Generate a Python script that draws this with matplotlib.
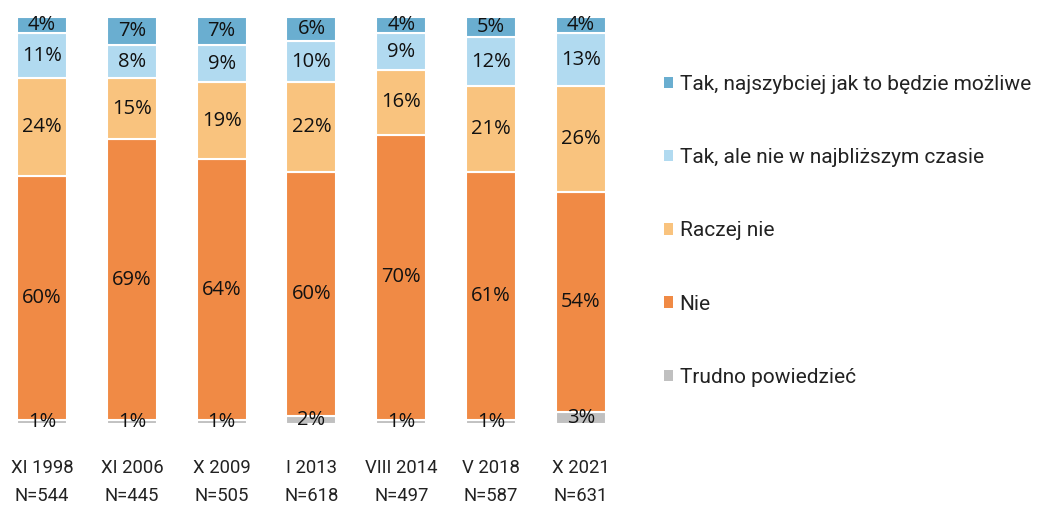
import matplotlib
matplotlib.use("Agg")
import matplotlib.pyplot as plt
import numpy as np

categories = ["XI 1998\nN=544", "XI 2006\nN=445", "X 2009\nN=505", "I 2013\nN=618",
              "VIII 2014\nN=497", "V 2018\nN=587", "X 2021\nN=631"]
trudno = [1, 1, 1, 2, 1, 1, 3]
nie = [60, 69, 64, 60, 70, 61, 54]
raczej_nie = [24, 15, 19, 22, 16, 21, 26]
tak_ale = [11, 8, 9, 10, 9, 12, 13]
tak_szybko = [4, 7, 7, 6, 4, 5, 4]

series = [
    ("Trudno powiedzieć", trudno, "#c0c0c0"),
    ("Nie", nie, "#f08a45"),
    ("Raczej nie", raczej_nie, "#f9c37e"),
    ("Tak, ale nie w najbliższym czasie", tak_ale, "#b1daf0"),
    ("Tak, najszybciej jak to będzie możliwe", tak_szybko, "#6aaed0"),
]

W, H = 1038, 505
fig = plt.figure(figsize=(W / 100, H / 100), dpi=100)
ax_left_px, ax_right_px = 0, 630
ax_top_px, ax_bot_px = 17, 424
ax = fig.add_axes([ax_left_px / W, 1 - ax_bot_px / H,
                   (ax_right_px - ax_left_px) / W, (ax_bot_px - ax_top_px) / H])
unit = 89.83
x = np.arange(len(categories))
ax.set_xlim(-42 / unit, (630 - 42) / unit)
ax.set_ylim(0, 100)

bottom = np.zeros(len(categories))
handles = []
for name, vals, col in series:
    v = np.array(vals, dtype=float)
    b = ax.bar(x, v, bottom=bottom, width=50 / unit, color=col, edgecolor="white",
               linewidth=1.5, label=name)
    handles.append(b)
    for xi, bi, vi in zip(x, bottom, v):
        ax.text(xi, bi + vi / 2, f"{int(vi)}%", ha="center", va="center",
                fontsize=14.5, family=["Open Sans", "DejaVu Sans"], color="#111111")
    bottom += v

for s in ax.spines.values():
    s.set_visible(False)
ax.set_yticks([])
ax.set_xticks(x)
ax.set_xticklabels(categories, family="Roboto", fontsize=13.3, color="#222222",
                   linespacing=1.72)
ax.tick_params(axis="x", length=0, pad=25)

leg = fig.legend(handles[::-1], [s[0] for s in series][::-1], loc="upper left",
                 bbox_to_anchor=(664 / W, 1 - 75 / H), frameon=False,
                 prop={"family": "Roboto", "size": 15}, handlelength=0.45,
                 handleheight=0.45, handletextpad=0.3, labelspacing=2.6,
                 labelcolor="#222222", borderpad=0, borderaxespad=0)
for h in leg.legend_handles:
    h.set_linewidth(0)

fig.savefig("out.png", dpi=100)
